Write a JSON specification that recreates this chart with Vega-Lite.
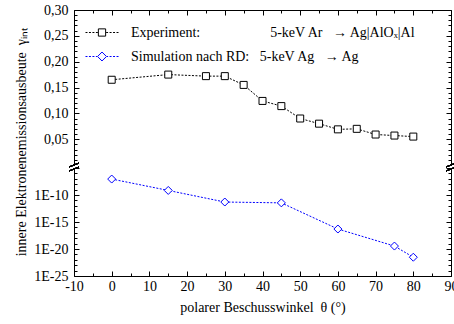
{
  "$schema": "https://vega.github.io/schema/vega-lite/v6.json",
  "padding": {"left": 13, "top": 3, "right": 2, "bottom": 2},
  "bounds": "flush",
  "background": "white",
  "datasets": {
    "pts": [
      {"series": "Experiment", "angle": 0, "value": 0.165},
      {"series": "Experiment", "angle": 15, "value": 0.175},
      {"series": "Experiment", "angle": 25, "value": 0.172},
      {"series": "Experiment", "angle": 30, "value": 0.172},
      {"series": "Experiment", "angle": 35, "value": 0.155},
      {"series": "Experiment", "angle": 40, "value": 0.124},
      {"series": "Experiment", "angle": 45, "value": 0.114},
      {"series": "Experiment", "angle": 50, "value": 0.090},
      {"series": "Experiment", "angle": 55, "value": 0.080},
      {"series": "Experiment", "angle": 60, "value": 0.069},
      {"series": "Experiment", "angle": 65, "value": 0.070},
      {"series": "Experiment", "angle": 70, "value": 0.059},
      {"series": "Experiment", "angle": 75, "value": 0.057},
      {"series": "Experiment", "angle": 80, "value": 0.055},
      {"series": "Simulation", "angle": 0, "value": 9e-8},
      {"series": "Simulation", "angle": 15, "value": 7e-10},
      {"series": "Simulation", "angle": 30, "value": 5e-12},
      {"series": "Simulation", "angle": 45, "value": 3.5e-12},
      {"series": "Simulation", "angle": 60, "value": 5e-17},
      {"series": "Simulation", "angle": 75, "value": 3.5e-20},
      {"series": "Simulation", "angle": 80, "value": 3e-22}
    ]
  },
  "spacing": 3,
  "vconcat": [
    {
      "width": 377,
      "height": 155,
      "data": {"name": "pts"},
      "transform": [{"filter": "datum.series == 'Experiment'"}],
      "layer": [
        {
          "mark": {"type": "line", "color": "black", "strokeWidth": 1, "strokeDash": [2, 1.5]},
          "encoding": {
            "x": {"field": "angle", "type": "quantitative", "scale": {"domain": [-10, 90], "nice": false, "zero": false},
              "axis": {"orient": "top", "values": [-10, 0, 10, 20, 30, 40, 50, 60, 70, 80, 90], "labels": false, "tickSize": -5, "domain": true, "title": null}},
            "y": {"field": "value", "type": "quantitative", "scale": {"domain": [0, 0.3], "nice": false, "zero": false},
              "axis": {"orient": "left", "values": [0.05, 0.1, 0.15, 0.2, 0.25, 0.3], "labelExpr": "replace(format(datum.value, '.2f'), '.', ',')", "tickSize": -5, "labelPadding": 11, "labelOverlap": false, "domain": true,
                "title": "innere Elektronenemissionsausbeute\u00a0\u00a0γᵢₙₜ", "titleX": -49, "titleY": 131.5, "titleBaseline": "alphabetic"}}
          }
        },
        {
          "mark": {"type": "point", "shape": "square", "filled": true, "fill": "white", "stroke": "black", "strokeWidth": 1, "size": 49, "opacity": 1},
          "encoding": {
            "x": {"field": "angle", "type": "quantitative", "scale": {"domain": [-10, 90], "nice": false, "zero": false},
              "axis": {"orient": "top", "values": [-5, 5, 15, 25, 35, 45, 55, 65, 75, 85], "labels": false, "tickSize": -3, "domain": false, "title": null}},
            "y": {"field": "value", "type": "quantitative", "scale": {"domain": [0, 0.3], "nice": false, "zero": false},
              "axis": {"orient": "left", "values": [0.01, 0.02, 0.03, 0.04, 0.06, 0.07, 0.08, 0.09, 0.11, 0.12, 0.13, 0.14, 0.16, 0.17, 0.18, 0.19, 0.21, 0.22, 0.23, 0.24, 0.26, 0.27, 0.28, 0.29], "labels": false, "tickSize": -3, "domain": false, "title": null}}
          }
        },
        {
          "transform": [{"filter": "datum.angle > 1000"}],
          "mark": {"type": "point", "filled": false, "opacity": 1},
          "encoding": {
            "x": {"field": "angle", "type": "quantitative", "scale": {"domain": [-10, 90], "nice": false, "zero": false}, "axis": null},
            "y": {"field": "value", "type": "quantitative", "scale": {"domain": [0, 0.3], "nice": false, "zero": false},
              "axis": {"orient": "right", "values": [0.05, 0.1, 0.15, 0.2, 0.25, 0.3], "labels": false, "tickSize": -5, "domain": true, "title": null}},
            "shape": {"field": "series", "type": "nominal",
              "scale": {"domain": ["Experiment", "Simulation"], "range": [
                "M-1,0H-0.88M-0.79,0H-0.67M-0.58,0H-0.46M-0.37,0H-0.25M-0.22,-0.22H0.22V0.22H-0.22ZM0.25,0H0.37M0.46,0H0.58M0.67,0H0.79M0.88,0H1",
                "M-1,0H-0.88M-0.79,0H-0.67M-0.58,0H-0.46M-0.37,0H-0.3M0,-0.27L0.27,0L0,0.27L-0.27,0ZM0.3,0H0.37M0.46,0H0.58M0.67,0H0.79M0.88,0H1"]},
              "legend": {"orient": "none", "legendX": 11, "legendY": 5.5, "title": null, "padding": 0, "symbolSize": 1089, "symbolStrokeWidth": 1, "labelOffset": 12, "rowPadding": -10, "labelLimit": 400, "labelFont": "Liberation Serif", "labelFontSize": 14, "labelColor": "black",
                "labelExpr": "datum.label == 'Experiment' ? 'Experiment:\u00a0\u00a0\u00a0\u00a0\u00a0\u00a0\u00a0\u00a0\u00a0\u00a0\u00a0\u00a0\u00a0\u00a0\u00a0\u00a0\u00a0\u00a0\u00a0\u00a05-keV Ar\u00a0\u00a0\u00a0→ Ag|AlOₓ|Al' : 'Simulation nach RD:\u00a0\u00a0\u00a05-keV Ag\u00a0\u00a0\u00a0→ Ag'"}},
            "stroke": {"field": "series", "type": "nominal",
              "scale": {"domain": ["Experiment", "Simulation"], "range": ["black", "#0000ff"]},
              "legend": {"orient": "none", "legendX": 11, "legendY": 5.5, "title": null, "padding": 0, "symbolSize": 1089, "symbolStrokeWidth": 1, "labelOffset": 12, "rowPadding": -10, "labelLimit": 400, "labelFont": "Liberation Serif", "labelFontSize": 14, "labelColor": "black",
                "labelExpr": "datum.label == 'Experiment' ? 'Experiment:\u00a0\u00a0\u00a0\u00a0\u00a0\u00a0\u00a0\u00a0\u00a0\u00a0\u00a0\u00a0\u00a0\u00a0\u00a0\u00a0\u00a0\u00a0\u00a0\u00a05-keV Ar\u00a0\u00a0\u00a0→ Ag|AlOₓ|Al' : 'Simulation nach RD:\u00a0\u00a0\u00a05-keV Ag\u00a0\u00a0\u00a0→ Ag'"}}
          }
        },
        {
          "transform": [{"filter": "datum.angle > 1000"}],
          "mark": {"type": "point", "opacity": 1},
          "encoding": {
            "x": {"field": "angle", "type": "quantitative", "scale": {"domain": [-10, 90], "nice": false, "zero": false}, "axis": null},
            "y": {"field": "value", "type": "quantitative", "scale": {"domain": [0, 0.3], "nice": false, "zero": false},
              "axis": {"orient": "right", "values": [0.01, 0.02, 0.03, 0.04, 0.06, 0.07, 0.08, 0.09, 0.11, 0.12, 0.13, 0.14, 0.16, 0.17, 0.18, 0.19, 0.21, 0.22, 0.23, 0.24, 0.26, 0.27, 0.28, 0.29], "labels": false, "tickSize": -3, "domain": false, "title": null}}
          }
        },
        {
          "mark": {"type": "point", "shape": "M-0.5,0.2L0.5,-0.2M-0.5,0.6L0.5,0.2", "size": 400, "filled": false, "stroke": "black", "strokeWidth": 1, "opacity": 1},
          "encoding": {
            "x": {"datum": -10, "type": "quantitative", "scale": {"domain": [-10, 90], "nice": false, "zero": false}, "axis": null},
            "y": {"datum": 0, "type": "quantitative", "scale": {"domain": [0, 0.3], "nice": false, "zero": false}, "axis": null}
          }
        },
        {
          "mark": {"type": "point", "shape": "M-0.5,0.2L0.5,-0.2M-0.5,0.6L0.5,0.2", "size": 400, "filled": false, "stroke": "black", "strokeWidth": 1, "opacity": 1},
          "encoding": {
            "x": {"datum": 90, "type": "quantitative", "scale": {"domain": [-10, 90], "nice": false, "zero": false}, "axis": null},
            "y": {"datum": 0, "type": "quantitative", "scale": {"domain": [0, 0.3], "nice": false, "zero": false}, "axis": null}
          }
        }
      ],
      "resolve": {"axis": {"x": "independent", "y": "independent"}}
    },
    {
      "width": 377,
      "height": 108,
      "data": {"name": "pts"},
      "transform": [{"filter": "datum.series == 'Simulation'"}],
      "layer": [
        {
          "mark": {"type": "line", "color": "#0000ff", "strokeWidth": 1, "strokeDash": [2, 1.5]},
          "encoding": {
            "x": {"field": "angle", "type": "quantitative", "scale": {"domain": [-10, 90], "nice": false, "zero": false},
              "axis": {"orient": "bottom", "values": [-10, 0, 10, 20, 30, 40, 50, 60, 70, 80, 90], "labelExpr": "datum.value + ''", "labelFlush": false, "labelOverlap": false, "tickSize": -5, "labelPadding": 8, "domain": true,
                "title": "polarer Beschusswinkel\u00a0\u00a0θ (°)", "titlePadding": 7}},
            "y": {"field": "value", "type": "quantitative", "scale": {"type": "log", "domain": [1e-25, 1e-5], "nice": false},
              "axis": {"orient": "left", "values": [1e-25, 1e-20, 1e-15, 1e-10, 1e-5], "labelExpr": "datum.value > 1e-6 ? '' : '1E' + round(log(datum.value) / LN10)", "labelOverlap": false, "tickSize": -5, "labelPadding": 11, "domain": true, "title": null}}
          }
        },
        {
          "mark": {"type": "point", "shape": "diamond", "filled": true, "fill": "white", "stroke": "#0000ff", "strokeWidth": 1, "size": 64, "opacity": 1},
          "encoding": {
            "x": {"field": "angle", "type": "quantitative", "scale": {"domain": [-10, 90], "nice": false, "zero": false},
              "axis": {"orient": "bottom", "values": [-5, 5, 15, 25, 35, 45, 55, 65, 75, 85], "labels": false, "tickSize": -3, "domain": false, "title": null}},
            "y": {"field": "value", "type": "quantitative", "scale": {"type": "log", "domain": [1e-25, 1e-5], "nice": false},
              "axis": {"orient": "left", "values": [1e-24, 1e-23, 1e-22, 1e-21, 1e-19, 1e-18, 1e-17, 1e-16, 1e-14, 1e-13, 1e-12, 1e-11, 1e-9, 1e-8, 1e-7, 1e-6], "labels": false, "tickSize": -3, "domain": false, "title": null}}
          }
        },
        {
          "transform": [{"filter": "datum.angle > 1000"}],
          "mark": {"type": "point", "opacity": 1},
          "encoding": {
            "x": {"field": "angle", "type": "quantitative", "scale": {"domain": [-10, 90], "nice": false, "zero": false}, "axis": null},
            "y": {"field": "value", "type": "quantitative", "scale": {"type": "log", "domain": [1e-25, 1e-5], "nice": false},
              "axis": {"orient": "right", "values": [1e-25, 1e-20, 1e-15, 1e-10, 1e-5], "labels": false, "tickSize": -5, "domain": true, "title": null}}
          }
        },
        {
          "transform": [{"filter": "datum.angle > 1000"}],
          "mark": {"type": "point", "opacity": 1},
          "encoding": {
            "x": {"field": "angle", "type": "quantitative", "scale": {"domain": [-10, 90], "nice": false, "zero": false}, "axis": null},
            "y": {"field": "value", "type": "quantitative", "scale": {"type": "log", "domain": [1e-25, 1e-5], "nice": false},
              "axis": {"orient": "right", "values": [1e-24, 1e-23, 1e-22, 1e-21, 1e-19, 1e-18, 1e-17, 1e-16, 1e-14, 1e-13, 1e-12, 1e-11, 1e-9, 1e-8, 1e-7, 1e-6], "labels": false, "tickSize": -3, "domain": false, "title": null}}
          }
        }
      ],
      "resolve": {"axis": {"x": "independent", "y": "independent"}}
    }
  ],
  "config": {
    "view": {"stroke": null},
    "font": "Liberation Serif",
    "axis": {"labelFont": "Liberation Serif", "labelFontSize": 14, "labelColor": "black", "titleFont": "Liberation Serif", "titleFontSize": 14, "titleFontWeight": "normal", "titleColor": "black", "domainColor": "black", "domainWidth": 1, "tickColor": "black", "tickWidth": 1, "grid": false}
  }
}
